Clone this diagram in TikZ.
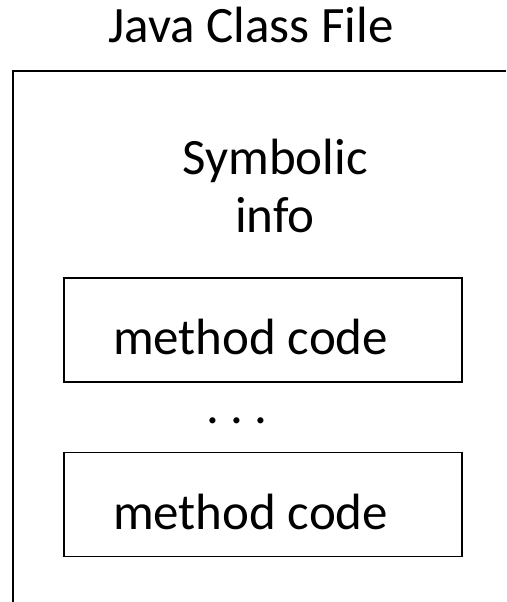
\documentclass[tikz,border=0pt]{standalone}
\usepackage{fontspec}
\setmainfont{Carlito}
\usepackage{tikz}
\usetikzlibrary{positioning}

\begin{document}
\begin{tikzpicture}[x=1pt, y=1pt, node distance=35pt, font=\fontsize{51}{58}\selectfont]
        \tikzset{
          codebox/.style={draw, line width=1.6pt, inner xsep=49pt, inner ysep=0pt,
            text width=300pt, align=flush left, text height=50pt, text depth=0pt,
            minimum height=104pt},
          frameline/.style={line width=2pt}
        }
        \useasboundingbox (0,0) rectangle (506,602);

        % Titel
        \node[anchor=base] (title) at (251,559) {Java Class File};

        % Rahmen der Klassendatei
        \coordinate (fbot) at (13,0);
        \coordinate (fcorner) at (13,531);
        \coordinate (fright) at (506,531);
        \draw[frameline] (fbot) -- (fcorner) -- (fright);

        % Symbolische Info
        \node[align=center, inner sep=0pt] (sym) at (275,416) {Symbolic\\info};

        % Methoden
        \node[codebox] (code1) at (263,272) {method code};
        \node[below=35pt of code1, xshift=-26pt, inner sep=0pt] (dots) {.\ .\ .};
        \node[codebox, below=69pt of code1] (code2) {method code};

    \end{tikzpicture}
\end{document}
